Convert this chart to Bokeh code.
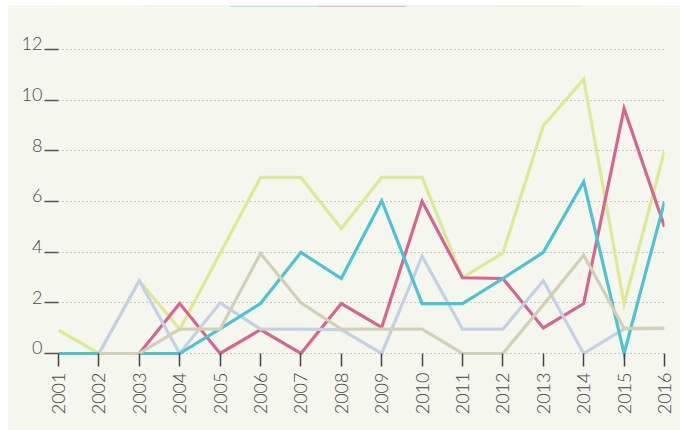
import math
from bokeh.plotting import figure
from bokeh.models import Range1d, FixedTicker, LinearAxis, Span, Spacer
from bokeh.layouts import column, row
from bokeh.embed import file_html
from bokeh.resources import INLINE
import numpy as np

# ---------------- data ----------------
years = list(range(2001, 2017))
year_labels = [str(y) for y in years]
y_ticks = [0, 2, 4, 6, 8, 10, 12]
y_tick_labels = [str(t) for t in y_ticks]

series_names = ["A", "B", "C", "D", "E"]
yellow = [0.92, 0, 2.87, 0.96, 3.95, 6.95, 6.95, 4.93, 6.95, 6.95, 2.99, 3.97, 8.99, 10.83, 1.95, 8.0]
teal = [0, 0, 0, 0, 0.97, 1.97, 3.99, 2.96, 6.03, 1.97, 1.97, 2.96, 3.99, 6.78, 0, 5.99]
pink = [0, 0, 0, 1.97, 0, 0.94, 0, 1.97, 1.03, 6.01, 2.99, 2.96, 1.01, 1.97, 9.67, 5.0]
lavender = [0, 0, 2.87, 0, 2.0, 0.96, 0.96, 0.94, 0, 3.84, 0.96, 0.96, 2.87, 0, 0.97, 0.99]
beige = [np.nan, 0, 0, 0.96, 0.96, 3.95, 2.0, 0.96, 0.96, 0.96, 0, 0, 1.92, 3.88, 0.99, 0.99]

line_colors = ["#dde998", "#4dc4cf", "#d6668f", "#c5d0e4", "#d3d0b9"]
tab_colors = ["#eff5d5", "#bee5e9", "#ebbecc", "#e7eaf3", "#eae8dc"]
draw_order = [0, 2, 3, 1, 4]  # yellow, pink, lavender, teal, beige on top
all_series = [yellow, teal, pink, lavender, beige]

BG = "#f5f6ee"
FONT = "Lato Light"

# ---------------- header (colour tabs) ----------------
W = 673
tab_w = 98.0
tab_left = 92.0
header = figure(width=W, height=7, output_backend="svg", toolbar_location=None,
                x_axis_type=None, y_axis_type=None, min_border=0,
                x_range=Range1d(-tab_left / tab_w, (W - tab_left) / tab_w),
                y_range=Range1d(0, 7))
header.background_fill_color = BG
header.border_fill_color = BG
header.outline_line_color = None
header.grid.visible = False
idx = list(range(len(series_names)))
header.quad(left=idx, right=[i + 1 for i in idx], bottom=1.4, top=7,
            fill_color=tab_colors, line_color=None)
header.add_layout(Span(location=0.7, dimension="width", line_color="#d6dcae", line_width=1.5))

# ---------------- main chart ----------------
y0, y1 = -0.316, 13.658
p = figure(width=W, height=423, output_backend="svg", toolbar_location=None,
           x_range=Range1d(2001, 2016), y_range=Range1d(y0, y1),
           min_border_left=51, min_border_right=16, min_border_top=0, min_border_bottom=69)
p.background_fill_color = BG
p.border_fill_color = BG
p.outline_line_color = None
p.xgrid.visible = False
p.ygrid.ticker = FixedTicker(ticks=y_ticks)
p.ygrid.grid_line_color = "#9a9a94"
p.ygrid.grid_line_dash = "1 3"
p.ygrid.grid_line_width = 1

# x axis
xa = p.xaxis[0]
xa.ticker = FixedTicker(ticks=years)
xa.major_label_overrides = {y: s for y, s in zip(years, year_labels)}
xa.major_label_orientation = math.pi / 2
xa.axis_line_color = None
xa.major_tick_in = 8
xa.major_tick_out = 5
xa.major_tick_line_color = "#444444"
xa.major_tick_line_width = 1.5
xa.minor_tick_line_color = None
xa.major_label_standoff = 6
xa.major_label_text_font = FONT
xa.major_label_text_font_size = "18px"
xa.major_label_text_color = "#444444"

# y axis: tick dashes only (labels are carried by the axis below)
ya = p.yaxis[0]
ya.ticker = FixedTicker(ticks=y_ticks)
ya.axis_line_color = None
ya.major_tick_in = 0
ya.major_tick_out = 14
ya.major_tick_line_color = "#555555"
ya.major_tick_line_width = 1.5
ya.minor_tick_line_color = None
ya.major_label_overrides = {t: "" for t in y_ticks}
ya.major_label_standoff = 0

# y labels sitting on the tick dashes
shift = 0.22
p.extra_y_ranges = {"lab": Range1d(y0 - shift, y1 - shift)}
la = LinearAxis(y_range_name="lab", ticker=FixedTicker(ticks=y_ticks))
la.major_label_overrides = {t: s for t, s in zip(y_ticks, y_tick_labels)}
la.axis_line_color = None
la.major_tick_in = 0
la.major_tick_out = 0
la.major_tick_line_color = None
la.minor_tick_line_color = None
la.major_label_standoff = 2
la.major_label_text_font = FONT
la.major_label_text_font_size = "18px"
la.major_label_text_color = "#4a4a4a"
p.add_layout(la, "left")

for i in draw_order:
    p.line(years, all_series[i], line_color=line_colors[i], line_width=3.2,
           line_join="miter")

layout = row(Spacer(width=7, height=430), column(header, p, spacing=0), spacing=0)
open("out.html", "w").write(file_html(layout, INLINE))
